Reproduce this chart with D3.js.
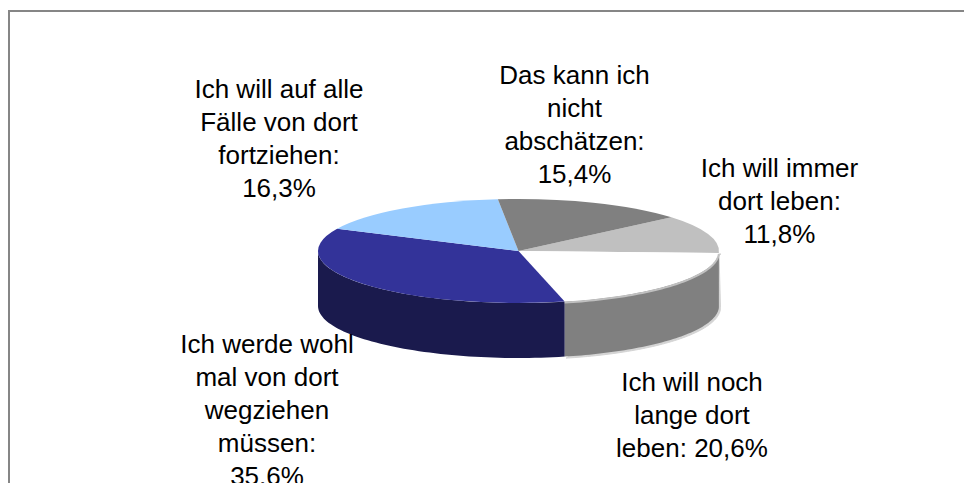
<!DOCTYPE html>
<html><head><meta charset="utf-8">
<script src="https://cdn.jsdelivr.net/npm/d3@7"></script>
<style>html,body{margin:0;padding:0;background:#fff}svg{display:block}text{font-family:"Liberation Sans",Arial,sans-serif;fill:#000}</style>
</head><body><svg id="c" width="964" height="483"></svg>
<script>
const categories=["Ich will immer dort leben","Ich will noch lange dort leben","Ich werde wohl mal von dort wegziehen müssen","Ich will auf alle Fälle von dort fortziehen","Das kann ich nicht abschätzen"];
const values=[11.8,20.6,35.6,16.3,15.4];
const topColors=["#c0c0c0","#ffffff","#333399","#99ccff","#808080"];
const sideColors=["#606060","#808080","#1a1a4d","#4d6680","#404040"];
const labelLines=[["Ich will immer","dort leben:","11,8%"],["Ich will noch","lange dort","leben: 20,6%"],["Ich werde wohl","mal von dort","wegziehen","müssen:","35,6%"],["Ich will auf alle","Fälle von dort","fortziehen:","16,3%"],["Das kann ich","nicht","abschätzen:","15,4%"]];
const labelX=[779.5,692,267,279,574.5];
const labelY=[177,391,353,98,84];
const W=964,H=483,cx=518.5,cy=251,rx=200.5,ry=52,depth=55,lineH=33;
const svg=d3.select("#c");
svg.append("path").attr("d",d3.line()([[9,H],[9,11],[W,11]])).attr("fill","none").attr("stroke","#868686").attr("stroke-width",2);
const start=49.7*Math.PI/180;
const arcs=d3.pie().sort(null).value(d=>d).startAngle(start).endAngle(start+2*Math.PI)(values);
const pt=(a,dy=0)=>[cx+rx*Math.sin(a),cy-ry*Math.cos(a)+dy];
const w=arcs[1];
const sample=(a,b)=>d3.range(61).map(d3.scaleLinear().domain([0,60]).range([a,b]));
// pale rim behind the wall of the white slice
const wallArc=sample(Math.PI/2,w.endAngle);
svg.append("path").attr("d",d3.line()(wallArc.map(a=>pt(a,depth)).map(p=>[p[0]+1.5,p[1]+1.5]))+"L721,254L719,254Z").attr("fill","#d4d4d4").attr("stroke","#d4d4d4").attr("stroke-width",1);
const sideG=svg.append("g");
arcs.forEach((d,i)=>{
  const a0=Math.max(d.startAngle,Math.PI/2),a1=Math.min(d.endAngle,3*Math.PI/2);
  if(a1<=a0)return;
  const ts=sample(a0,a1);
  const pts=ts.map(a=>pt(a)).concat(ts.slice().reverse().map(a=>pt(a,depth)));
  sideG.append("path").attr("d",d3.line()(pts)+"Z").attr("fill",sideColors[i]);
});
const topG=svg.append("g").attr("transform",`translate(${cx},${cy}) scale(1,${ry/rx})`);
const arc=d3.arc().innerRadius(0).outerRadius(rx);
topG.selectAll("path").data(arcs).join("path").attr("d",arc).attr("fill",(d,i)=>topColors[i]);
// pale rim along the white slice
svg.append("path").attr("d",d3.line()(sample(w.startAngle,w.endAngle).map(a=>pt(a,1)))).attr("fill","none").attr("stroke","#c0c0c0").attr("stroke-width",2);
const tg=svg.append("g").attr("text-anchor","middle").attr("font-size",26);
labelLines.forEach((lines,i)=>lines.forEach((t,j)=>tg.append("text").attr("x",labelX[i]).attr("y",labelY[i]+j*lineH).text(t)));
</script></body></html>
